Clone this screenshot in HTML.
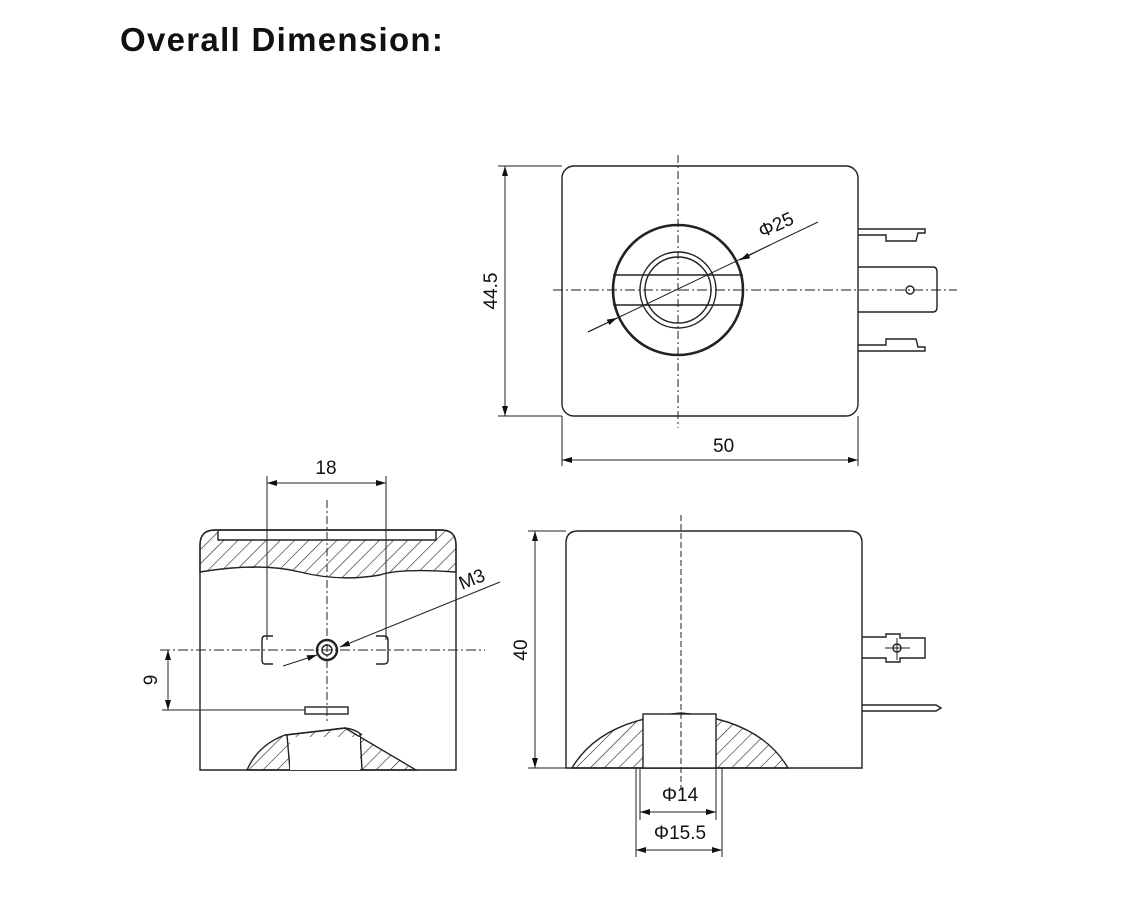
<!DOCTYPE html>
<html><head><style>
body{margin:0;background:#fff;width:1142px;height:904px;overflow:hidden}
svg{position:absolute;left:0;top:0}
text{font-family:"Liberation Sans",sans-serif;fill:#111}
</style></head><body>
<svg width="1142" height="904" viewBox="0 0 1142 904">
<defs>
<pattern id="h" patternUnits="userSpaceOnUse" width="10" height="10" patternTransform="rotate(45)">
<line x1="0" y1="0" x2="0" y2="10" stroke="#222" stroke-width="1.2"/>
</pattern>
<marker id="a" viewBox="0 0 10 6" refX="10" refY="3" markerWidth="10" markerHeight="6" orient="auto-start-reverse" markerUnits="userSpaceOnUse"><path d="M0,0L10,3L0,6z" fill="#111"/></marker>
</defs>
<text x="120" y="51" font-size="33" font-weight="bold" letter-spacing="1.3">Overall Dimension:</text>
<g stroke="#222" stroke-width="1.4" fill="none">
<!-- top view -->
<rect x="562" y="166" width="296" height="250" rx="12"/>
<circle cx="678" cy="290" r="65" stroke-width="2.6"/>
<circle cx="678" cy="290" r="38"/>
<circle cx="678" cy="290" r="33"/>
<line x1="613" y1="275" x2="743" y2="275"/>
<line x1="613" y1="305" x2="743" y2="305"/>
<line x1="678" y1="155" x2="678" y2="428" stroke-dasharray="8,3,2,3" stroke-width="1"/>
<line x1="553" y1="290" x2="957" y2="290" stroke-dasharray="10,3,2,3" stroke-width="1"/>
<line x1="588" y1="332" x2="818" y2="222" stroke-width="1"/>
<line x1="588" y1="332" x2="617" y2="318" marker-end="url(#a)" stroke-width="1"/>
<line x1="770" y1="245" x2="740" y2="260" marker-end="url(#a)" stroke-width="1"/>
<polyline points="858,229 925,229 925,233 918,233 916,241 886,241 886,235 858,235"/>
<polyline points="858,351 925,351 925,347 918,347 916,339 886,339 886,345 858,345"/>
<path d="M858,267 H933 Q937,267 937,272 V307 Q937,312 933,312 H858"/>
<circle cx="910" cy="290" r="4"/>
<line x1="498" y1="166" x2="562" y2="166" stroke-width="1"/>
<line x1="498" y1="416" x2="562" y2="416" stroke-width="1"/>
<line x1="505" y1="166" x2="505" y2="416" marker-start="url(#a)" marker-end="url(#a)" stroke-width="1"/>
<line x1="562" y1="416" x2="562" y2="466" stroke-width="1"/>
<line x1="858" y1="416" x2="858" y2="466" stroke-width="1"/>
<line x1="562" y1="460" x2="858" y2="460" marker-start="url(#a)" marker-end="url(#a)" stroke-width="1"/>
<!-- left bottom view -->
<path d="M200,770 V545 Q200,530 215,530 H441 Q456,530 456,545 V770 Z"/>
<path d="M215,530 H441 Q456,530 456,545 V572 Q400,568 380,575 Q340,582 300,572 Q260,562 200,572 V545 Q200,530 215,530Z" fill="url(#h)"/>
<path d="M218,531 V540 H436 V531" fill="#fff"/>
<line x1="267" y1="476" x2="267" y2="640" stroke-width="1"/>
<line x1="386" y1="476" x2="386" y2="640" stroke-width="1"/>
<line x1="267" y1="483" x2="386" y2="483" marker-start="url(#a)" marker-end="url(#a)" stroke-width="1"/>
<line x1="327" y1="500" x2="327" y2="722" stroke-dasharray="8,3,2,3" stroke-width="1"/>
<line x1="160" y1="650" x2="485" y2="650" stroke-dasharray="10,3,2,3" stroke-width="1"/>
<path d="M273,636 H265 Q262,636 262,640 V660 Q262,664 265,664 H273"/>
<path d="M376,636 H384 Q388,636 388,640 V660 Q388,664 384,664 H376"/>
<circle cx="327" cy="650" r="10" stroke-width="2.4"/>
<circle cx="327" cy="650" r="5"/>
<line x1="500" y1="582" x2="340" y2="647" marker-end="url(#a)" stroke-width="1"/>
<line x1="283" y1="666" x2="317" y2="655" marker-end="url(#a)" stroke-width="1"/>
<line x1="162" y1="710" x2="305" y2="710" stroke-width="1"/>
<rect x="305" y="707" width="43" height="7"/>
<line x1="168" y1="650" x2="168" y2="710" marker-start="url(#a)" marker-end="url(#a)" stroke-width="1"/>
<path d="M247,770 Q258,745 285,735 L345,728 L416,770 Z" fill="url(#h)"/>
<path d="M287,735 L290,770 M360,733 L362,770"/>
<rect x="290" y="737" width="70" height="33" fill="#fff" stroke="none"/>
<path d="M285,735 Q330,730 345,728 Q355,729 362,735" />
<!-- right bottom view -->
<path d="M566,768 V543 Q566,531 578,531 H850 Q862,531 862,543 V768 Z"/>
<path d="M572,768 Q600,720 681,713 Q760,720 788,768 Z" fill="url(#h)"/>
<rect x="643" y="714" width="73" height="54" fill="#fff"/>
<line x1="681" y1="515" x2="681" y2="790" stroke-dasharray="6,3" stroke-width="1"/>
<line x1="528" y1="531" x2="566" y2="531" stroke-width="1"/>
<line x1="528" y1="768" x2="566" y2="768" stroke-width="1"/>
<line x1="535" y1="531" x2="535" y2="768" marker-start="url(#a)" marker-end="url(#a)" stroke-width="1"/>
<line x1="640" y1="768" x2="640" y2="820" stroke-width="1"/>
<line x1="716" y1="768" x2="716" y2="820" stroke-width="1"/>
<line x1="640" y1="812" x2="716" y2="812" marker-start="url(#a)" marker-end="url(#a)" stroke-width="1"/>
<line x1="636" y1="768" x2="636" y2="857" stroke-width="1"/>
<line x1="722" y1="768" x2="722" y2="857" stroke-width="1"/>
<line x1="636" y1="850" x2="722" y2="850" marker-start="url(#a)" marker-end="url(#a)" stroke-width="1"/>
<path d="M862,637 H886 V634 H900 V638 H925 V658 H900 V662 H886 V658 H862"/>
<circle cx="897" cy="648" r="4"/>
<line x1="885" y1="648" x2="910" y2="648" stroke-width="1"/>
<line x1="897" y1="638" x2="897" y2="660" stroke-width="1"/>
<path d="M862,705 H936 L941,708 L936,711 H862"/>
</g>
<text x="713" y="452" font-size="19">50</text>
<text transform="translate(497,291) rotate(-90)" font-size="19" text-anchor="middle">44.5</text>
<text transform="translate(762,238) rotate(-24)" font-size="19">Φ25</text>
<text x="326" y="474" font-size="19" text-anchor="middle">18</text>
<text transform="translate(462,590) rotate(-22)" font-size="19">M3</text>
<text transform="translate(157,680) rotate(-90)" font-size="19" text-anchor="middle">9</text>
<text transform="translate(527,650) rotate(-90)" font-size="19" text-anchor="middle">40</text>
<text x="680" y="801" font-size="19" text-anchor="middle">Φ14</text>
<text x="680" y="839" font-size="19" text-anchor="middle">Φ15.5</text>
</svg>
</body></html>
